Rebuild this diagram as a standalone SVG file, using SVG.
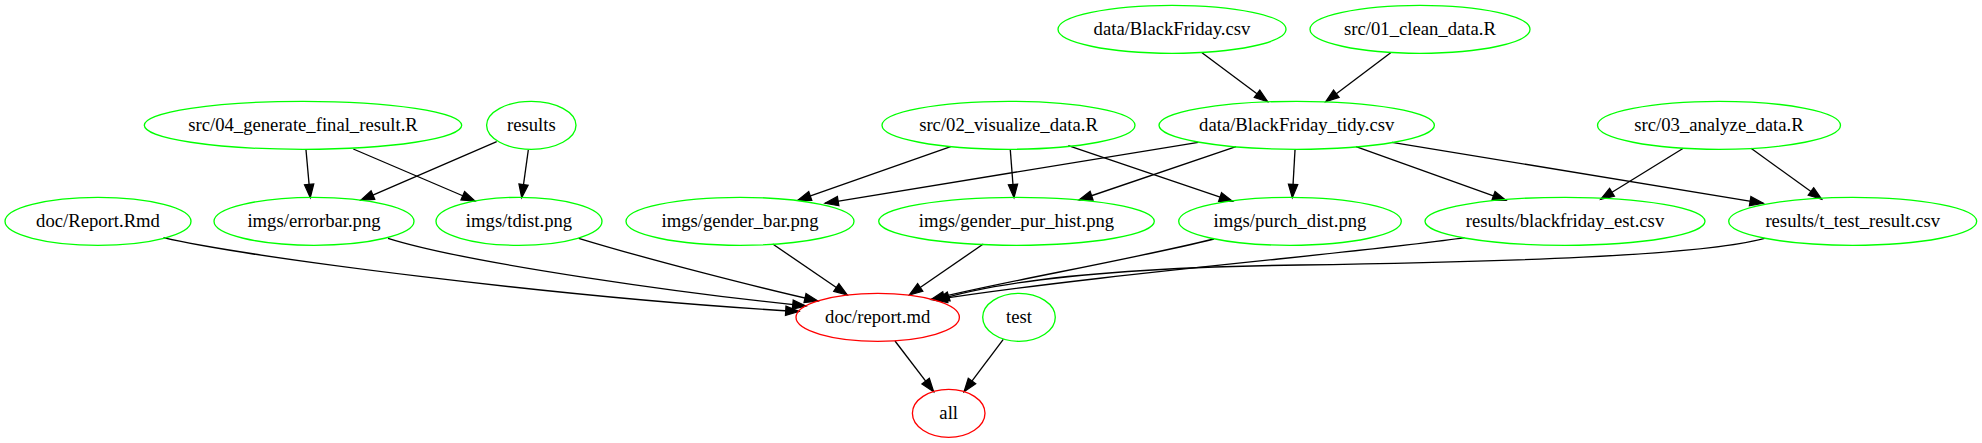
<svg xmlns="http://www.w3.org/2000/svg" width="1982" height="443" viewBox="0 0 1982 443">
<style>
.n ellipse{fill:none;stroke:#00ff00;stroke-width:1.33}
.n.r ellipse{stroke:#ff0000}
.n text{font-family:"Liberation Serif","Times New Roman",serif;font-size:18.67px;fill:#000;text-anchor:middle}
#edges path{fill:none;stroke:#000;stroke-width:1.33;marker-end:url(#arr)}
</style>
<defs>
<marker id="arr" markerUnits="userSpaceOnUse" viewBox="0 0 13.33 9.33" markerWidth="13.33" markerHeight="9.33" refX="13.33" refY="4.67" orient="auto" overflow="visible">
<path d="M0,0 L13.33,4.67 L0,9.33 Z" fill="#000" stroke="#000" stroke-width="1.2" stroke-linejoin="miter"/>
</marker>
</defs>
<rect width="1982" height="443" fill="#fff"/>
<g id="edges">
<path d="M1202,52.7 L1267.7,101.7"/>
<path d="M1390.7,52.7 L1325.7,101.7"/>
<path d="M306,150 L310.3,197.7"/>
<path d="M353.3,149 L475,201"/>
<path d="M496.7,141.7 L360.7,200.3"/>
<path d="M528.3,150 L521.7,197.7"/>
<path d="M950.7,146.7 L797.7,200.3"/>
<path d="M1198.3,142.3 L825,203.3"/>
<path d="M1010.3,150 L1014,197.7"/>
<path d="M1236,146.7 L1079,200"/>
<path d="M1068.3,145.7 L1232.7,201.3"/>
<path d="M1295,150 L1292.3,197.7"/>
<path d="M1356,146.7 L1506,200.3"/>
<path d="M1392,142.3 L1763.3,203.3"/>
<path d="M1683.3,148.3 L1600.7,199.3"/>
<path d="M1751,148.3 L1821.7,199.3"/>
<path d="M163.5,237.7 C240,256 560,298 799,311.5"/>
<path d="M388,238.3 C470,264 690,294 806,306"/>
<path d="M578.7,238.3 C650,260 760,288 818,301"/>
<path d="M772.7,244 L847.3,295"/>
<path d="M983.3,244 L909.3,295"/>
<path d="M1214,239 C1120,262 1000,282 931,299.5"/>
<path d="M1464.4,237.7 C1380,251 1100,274 934,300"/>
<path d="M1764.6,238.3 C1700,256 1500,262 1300,265 C1150,267 1010,277 936,300.5"/>
<path d="M895,341 L933.7,391.7"/>
<path d="M1003.3,339.3 L964,391.7"/>
</g>
<g id="n_data_BlackFriday_csv" class="n"><ellipse cx="1172" cy="29.3" rx="114" ry="24"/><text x="1172" y="34.5">data/BlackFriday.csv</text></g>
<g id="n_src_01_clean_data_R" class="n"><ellipse cx="1420" cy="29.3" rx="110" ry="24"/><text x="1420" y="34.5">src/01_clean_data.R</text></g>
<g id="n_src_04_generate_final_result_R" class="n"><ellipse cx="303" cy="125.3" rx="158.7" ry="24"/><text x="303" y="130.5">src/04_generate_final_result.R</text></g>
<g id="n_results" class="n"><ellipse cx="531.3" cy="125.3" rx="44.7" ry="24"/><text x="531.3" y="130.5">results</text></g>
<g id="n_src_02_visualize_data_R" class="n"><ellipse cx="1008.5" cy="125.3" rx="126.5" ry="24"/><text x="1008.5" y="130.5">src/02_visualize_data.R</text></g>
<g id="n_data_BlackFriday_tidy_csv" class="n"><ellipse cx="1296.7" cy="125.3" rx="137.7" ry="24"/><text x="1296.7" y="130.5">data/BlackFriday_tidy.csv</text></g>
<g id="n_src_03_analyze_data_R" class="n"><ellipse cx="1719" cy="125.3" rx="121.5" ry="24"/><text x="1719" y="130.5">src/03_analyze_data.R</text></g>
<g id="n_doc_Report_Rmd" class="n"><ellipse cx="98" cy="221.3" rx="93" ry="24"/><text x="98" y="226.5">doc/Report.Rmd</text></g>
<g id="n_imgs_errorbar_png" class="n"><ellipse cx="314" cy="221.3" rx="100" ry="24"/><text x="314" y="226.5">imgs/errorbar.png</text></g>
<g id="n_imgs_tdist_png" class="n"><ellipse cx="519" cy="221.3" rx="83" ry="24"/><text x="519" y="226.5">imgs/tdist.png</text></g>
<g id="n_imgs_gender_bar_png" class="n"><ellipse cx="740" cy="221.3" rx="114" ry="24"/><text x="740" y="226.5">imgs/gender_bar.png</text></g>
<g id="n_imgs_gender_pur_hist_png" class="n"><ellipse cx="1016.5" cy="221.3" rx="137.8" ry="24"/><text x="1016.5" y="226.5">imgs/gender_pur_hist.png</text></g>
<g id="n_imgs_purch_dist_png" class="n"><ellipse cx="1290" cy="221.3" rx="111.3" ry="24"/><text x="1290" y="226.5">imgs/purch_dist.png</text></g>
<g id="n_results_blackfriday_est_csv" class="n"><ellipse cx="1565" cy="221.3" rx="140" ry="24"/><text x="1565" y="226.5">results/blackfriday_est.csv</text></g>
<g id="n_results_t_test_result_csv" class="n"><ellipse cx="1852.7" cy="221.3" rx="124" ry="24"/><text x="1852.7" y="226.5">results/t_test_result.csv</text></g>
<g id="n_doc_report_md" class="n r"><ellipse cx="877.7" cy="317.3" rx="81.7" ry="24"/><text x="877.7" y="322.5">doc/report.md</text></g>
<g id="n_test" class="n"><ellipse cx="1019" cy="317.3" rx="36.3" ry="24"/><text x="1019" y="322.5">test</text></g>
<g id="n_all" class="n r"><ellipse cx="948.7" cy="413.3" rx="36.3" ry="24"/><text x="948.7" y="418.5">all</text></g>
</svg>
